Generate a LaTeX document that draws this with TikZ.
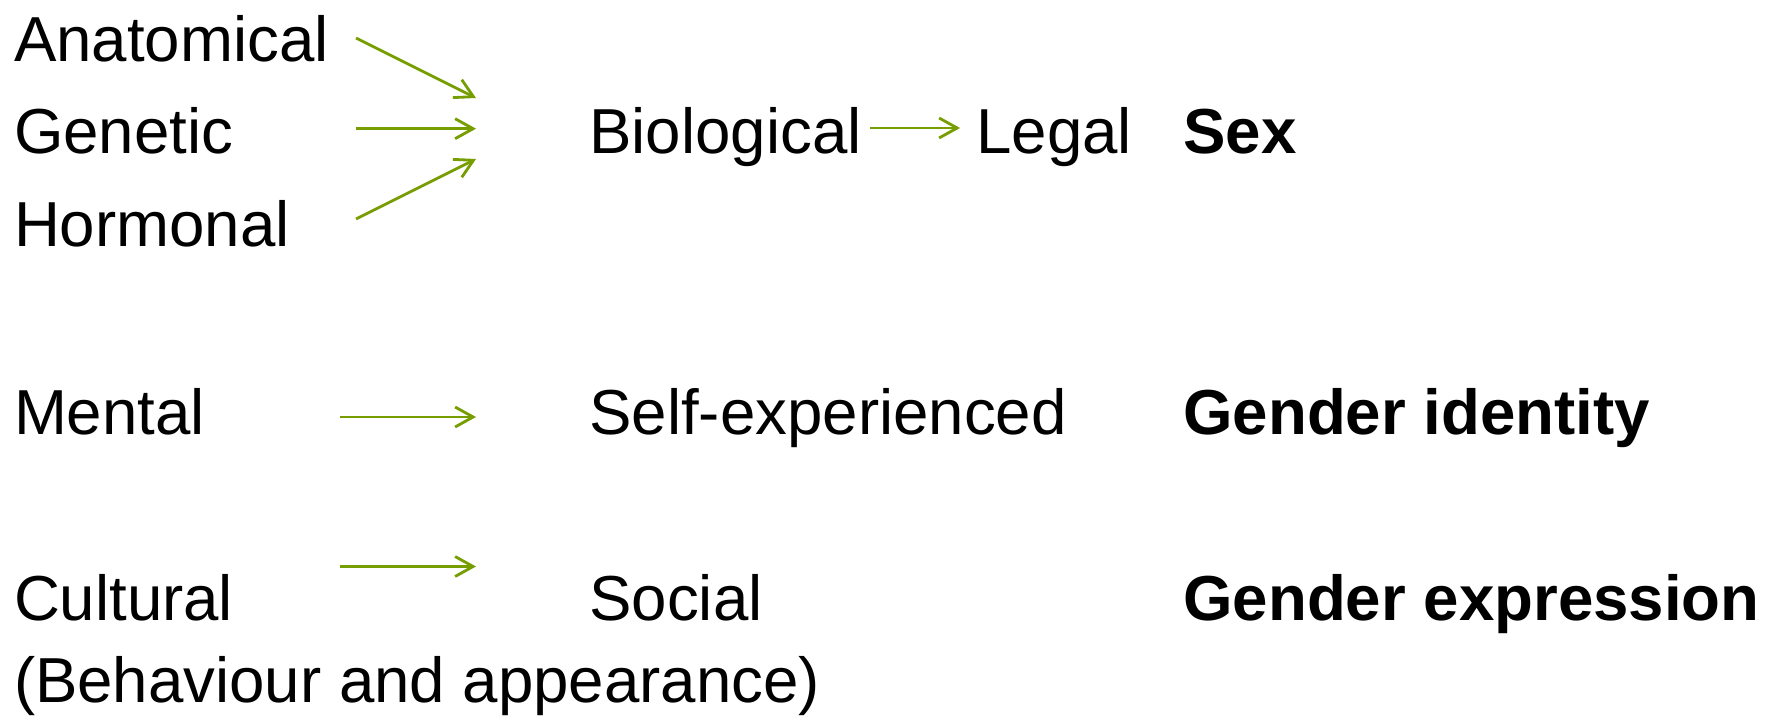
\documentclass[tikz,border=0pt]{standalone}
\usepackage{fontspec}
\setmainfont{Liberation Sans}
\usetikzlibrary{arrows.meta}
\definecolor{leaf}{RGB}{119,158,0}
\tikzset{
  lbl/.style={anchor=base west,inner sep=0pt,font=\fontsize{31.8}{38}\selectfont},
  term/.style={lbl,font=\fontsize{31.8}{38}\selectfont\bfseries},
  arr/.style={-{Straight Barb[length=9pt,width=10pt]},leaf,line width=1.4pt}
}
\begin{document}
\begin{tikzpicture}[x=0.5pt,y=-0.5pt]
    \useasboundingbox (0,0) rectangle (1773,721);

    % Left column
    \node[lbl] (anat) at (13.6,62) {Anatomical};
    \node[lbl] (gene) at (13.6,154) {Genetic};
    \node[lbl] (horm) at (13.6,246.5) {Hormonal};
    \node[lbl] (ment) at (13.6,435) {Mental};
    \node[lbl] (cult) at (13.6,620) {Cultural};
    \node[lbl] (behav) at (13.6,702) {(Behaviour and appearance)};

    % Middle column
    \node[lbl] (bio) at (589,154) {Biological};
    \node[lbl] (legal) at (976,154) {Legal};
    \node[lbl] (self) at (589,435) {Self-experienced};
    \node[lbl] (social) at (589,620) {Social};

    % Right column
    \node[term] (sex) at (1183,154) {Sex};
    \node[term] (ident) at (1183,435) {Gender identity};
    \node[term] (expr) at (1183,620) {Gender expression};

    % Arrow ends
    \coordinate (t1) at (356,38);
    \coordinate (t2) at (356,128.7);
    \coordinate (t3) at (356,219);
    \coordinate (h1) at (476,98);
    \coordinate (h2) at (476,128.7);
    \coordinate (h3) at (476,159);
    \coordinate (bl1) at (870,128);
    \coordinate (bl2) at (960,128);
    \coordinate (m1) at (340,417);
    \coordinate (m2) at (476,417);
    \coordinate (c1) at (340,566.5);
    \coordinate (c2) at (476,566.5);

    % Arrows
    \draw[arr] (t1) -- (h1);
    \draw[arr] (t2) -- (h2);
    \draw[arr] (t3) -- (h3);
    \draw[arr] (bl1) -- (bl2);
    \draw[arr] (m1) -- (m2);
    \draw[arr] (c1) -- (c2);

\end{tikzpicture}
\end{document}
